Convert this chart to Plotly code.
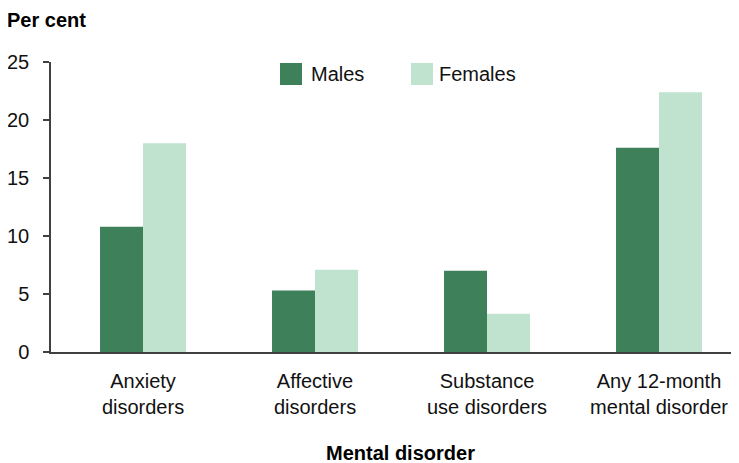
import plotly.graph_objects as go

categories = ["Anxiety<br>disorders", "Affective<br>disorders", "Substance<br>use disorders", "Any 12-month<br>mental disorder"]
males = [10.8, 5.3, 7.0, 17.6]
females = [18.0, 7.1, 3.3, 22.4]
y_ticks = [0, 5, 10, 15, 20, 25]

DARK = "rgb(62,128,90)"
LIGHT = "rgb(191,227,206)"
FONT = "Liberation Sans, Arial, sans-serif"
FS = 20
TXT = "#111111"

OFF = 8  # page body margin
W, H = 739 - OFF, 463 - OFF
L, R, T, B = 51 - OFF, 0, 62 - OFF, 111
PW, PH = W - L - R, H - T - B

def px(x):
    return (x - OFF - L) / PW

def py(y):
    return (H - B - (y - OFF)) / PH

fig = go.Figure()
fig.add_trace(go.Bar(x=categories, y=males, name="Males", marker_color=DARK, marker_line_width=0))
fig.add_trace(go.Bar(x=categories, y=females, name="Females", marker_color=LIGHT, marker_line_width=0))

shapes = []
annotations = []
# custom legend
for name, col, sx, tx in [("Males", DARK, 280, 309), ("Females", LIGHT, 411, 437)]:
    shapes.append(dict(type="rect", xref="paper", yref="paper", x0=px(sx), x1=px(sx + 22),
                       y0=py(85), y1=py(63), fillcolor=col, line_width=0, layer="above"))
    annotations.append(dict(text=name, xref="paper", yref="paper", x=px(tx), y=py(74),
                            xanchor="left", yanchor="middle", showarrow=False,
                            font=dict(family=FONT, size=FS, color=TXT)))

annotations.append(dict(text="<b>Per cent</b>", xref="paper", yref="paper", x=px(5), y=py(7),
                        xanchor="left", yanchor="top", showarrow=False,
                        font=dict(family=FONT, size=FS, color="#000")))
annotations.append(dict(text="<b>Mental disorder</b>", xref="paper", yref="paper", x=px(400), y=py(453),
                        xanchor="center", yanchor="middle", showarrow=False,
                        font=dict(family=FONT, size=FS, color="#000")))

fig.update_layout(
    width=W, height=H,
    margin=dict(l=L, r=R, t=T, b=B, pad=0),
    paper_bgcolor="white", plot_bgcolor="white",
    barmode="group", bargap=0.5, bargroupgap=0,
    showlegend=False,
    font=dict(family=FONT, size=FS, color=TXT),
    shapes=shapes, annotations=annotations,
)
fig.update_xaxes(range=[-0.535, 3.465], showline=True, linecolor="#404040", linewidth=1.5, ticks="",
                 showgrid=False, ticklabelstandoff=10,
                 tickfont=dict(family=FONT, size=FS, color=TXT))
fig.update_yaxes(range=[0, 25], tickvals=y_ticks, showline=True, linecolor="#404040", linewidth=1.5,
                 ticks="outside", ticklen=6, tickcolor="#404040", tickwidth=1.5, showgrid=False,
                 ticklabelstandoff=10,
                 zeroline=False, tickfont=dict(family=FONT, size=FS, color=TXT))

fig.write_html("out.html")
